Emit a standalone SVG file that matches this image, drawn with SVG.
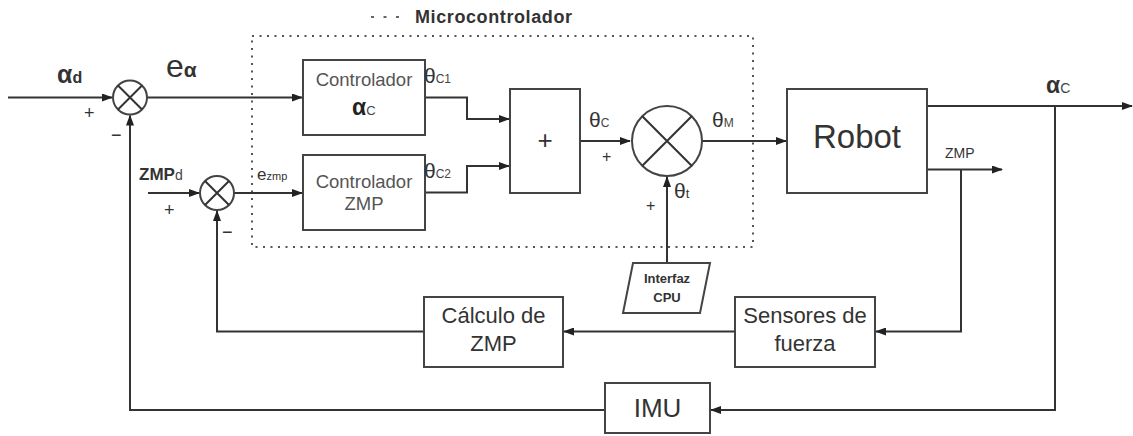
<svg xmlns="http://www.w3.org/2000/svg" width="1133" height="436" viewBox="0 0 1133 436">
<defs>
<marker id="ah" markerUnits="userSpaceOnUse" markerWidth="11" markerHeight="8" refX="10" refY="4" orient="auto">
<path d="M0,0 L11,4 L0,8 z" fill="#222"/>
</marker>
<style>
.ln{fill:none;stroke:#333;stroke-width:2}
.bx{fill:#fff;stroke:#444;stroke-width:2}
.t{font-family:"Liberation Sans",Arial,sans-serif;fill:#333}
.g{font-family:"Liberation Sans",Arial,sans-serif;fill:#555}
.b{font-weight:bold}
.m{text-anchor:middle}
</style>
</defs>
<rect width="1133" height="436" fill="#fff"/>

<g id="legend">
<line x1="371" y1="17" x2="402" y2="17" stroke="#666" stroke-width="2.2" stroke-dasharray="3,9.5"/>
<text class="t b" x="415" y="23" font-size="18" textLength="157" fill="#222">Microcontrolador</text>
</g>
<g id="microcontrolador">
<rect x="252" y="36" width="501" height="211" fill="none" stroke="#555" stroke-width="2" stroke-dasharray="2,5.5"/>
</g>

<g id="connectors">
<line class="ln" x1="8" y1="97.5" x2="112" y2="97.5" marker-end="url(#ah)"/>
<line class="ln" x1="147" y1="97.5" x2="302" y2="97.5" marker-end="url(#ah)"/>
<line class="ln" x1="148" y1="193" x2="199" y2="193" marker-end="url(#ah)"/>
<line class="ln" x1="234" y1="193" x2="302" y2="193" marker-end="url(#ah)"/>
<polyline class="ln" points="425,97.5 467,97.5 467,119 509,119" marker-end="url(#ah)"/>
<polyline class="ln" points="425,192.5 467,192.5 467,166 509,166" marker-end="url(#ah)"/>
<line class="ln" x1="580" y1="141" x2="630" y2="141" marker-end="url(#ah)"/>
<line class="ln" x1="702" y1="141" x2="786" y2="141" marker-end="url(#ah)"/>
<line class="ln" x1="667" y1="263" x2="667" y2="177" marker-end="url(#ah)"/>
<line class="ln" x1="927" y1="106" x2="1132" y2="106" marker-end="url(#ah)"/>
<line class="ln" x1="927" y1="169.5" x2="1002" y2="169.5" marker-end="url(#ah)"/>
<polyline class="ln" points="1055,106 1055,410 711,410" marker-end="url(#ah)"/>
<polyline class="ln" points="961,169.5 961,331.5 876,331.5" marker-end="url(#ah)"/>
<line class="ln" x1="735" y1="331.5" x2="564" y2="331.5" marker-end="url(#ah)"/>
<polyline class="ln" points="424,331.5 217,331.5 217,211" marker-end="url(#ah)"/>
<polyline class="ln" points="605,410 130,410 130,115.5" marker-end="url(#ah)"/>
</g>

<g id="sum1">
<circle class="bx" cx="130" cy="97.5" r="17"/>
<path class="ln" d="M118,85.5 L142,109.5 M142,85.5 L118,109.5"/>
</g>
<g id="sum2">
<circle class="bx" cx="217" cy="193" r="17"/>
<path class="ln" d="M205,181 L229,205 M229,181 L205,205"/>
</g>
<g id="sum3">
<circle class="bx" cx="667" cy="141" r="35"/>
<path class="ln" d="M642.3,116.3 L691.7,165.7 M691.7,116.3 L642.3,165.7"/>
</g>

<g id="controlador-alpha">
<rect class="bx" x="303" y="60" width="122" height="75"/>
<text class="g m" x="364" y="86" font-size="18.5">Controlador</text>
<text class="t" x="352" y="115"><tspan class="b" font-size="23" fill="#222">α</tspan><tspan font-size="13" fill="#444">C</tspan></text>
</g>
<g id="controlador-zmp">
<rect class="bx" x="303" y="155" width="122" height="75"/>
<text class="g m" x="364" y="188" font-size="18.5">Controlador</text>
<text class="g m" x="364" y="210" font-size="18.5">ZMP</text>
</g>
<g id="sumador">
<rect class="bx" x="510" y="89" width="70" height="104"/>
<text class="t m" x="545" y="149" font-size="26">+</text>
</g>
<g id="robot">
<rect class="bx" x="787" y="89" width="140" height="104"/>
<text class="t m" x="857" y="148" font-size="33" fill="#222">Robot</text>
</g>
<g id="interfaz">
<polygon class="bx" points="633,263 710,263 700,313 623,313"/>
<text class="t b m" x="667" y="283" font-size="13">Interfaz</text>
<text class="t b m" x="667" y="302" font-size="13">CPU</text>
</g>
<g id="calculo">
<rect class="bx" x="424" y="297" width="139" height="70"/>
<text class="t m" x="493.5" y="323" font-size="22">Cálculo de</text>
<text class="t m" x="493.5" y="351" font-size="22">ZMP</text>
</g>
<g id="sensores">
<rect class="bx" x="735" y="297" width="140" height="70"/>
<text class="t m" x="805" y="323" font-size="22">Sensores de</text>
<text class="t m" x="805" y="351" font-size="22">fuerza</text>
</g>
<g id="imu">
<rect class="bx" x="605" y="383" width="105" height="50"/>
<text class="t m" x="657.5" y="417" font-size="26">IMU</text>
</g>

<g id="labels">
<text class="t b" x="57" y="83" fill="#222"><tspan font-size="25">α</tspan><tspan font-size="16">d</tspan></text>
<text class="t" x="84" y="119" font-size="18">+</text>
<text class="t" x="111" y="141" font-size="18">−</text>
<text class="t" x="166" y="77" fill="#222"><tspan font-size="32">e</tspan><tspan class="b" font-size="21">α</tspan></text>
<text class="t b" x="139" y="180" fill="#222"><tspan font-size="17">ZMP</tspan><tspan font-size="14" font-weight="normal" fill="#444">d</tspan></text>
<text class="t" x="164" y="216" font-size="18">+</text>
<text class="t" x="222" y="238" font-size="18">−</text>
<text class="t" x="257" y="180" fill="#444"><tspan font-size="17">e</tspan><tspan font-size="11">zmp</tspan></text>
<text class="t" x="424" y="83" fill="#222"><tspan font-size="21">θ</tspan><tspan font-size="12" fill="#444">C1</tspan></text>
<text class="t" x="424" y="178" fill="#222"><tspan font-size="21">θ</tspan><tspan font-size="12" fill="#444">C2</tspan></text>
<text class="t" x="589" y="127" fill="#222"><tspan font-size="21">θ</tspan><tspan font-size="12" fill="#444">C</tspan></text>
<text class="t" x="602" y="162" font-size="16">+</text>
<text class="t" x="712" y="127" fill="#222"><tspan font-size="21">θ</tspan><tspan font-size="12" fill="#444">M</tspan></text>
<text class="t" x="674" y="198" fill="#222"><tspan font-size="21">θ</tspan><tspan font-size="13">t</tspan></text>
<text class="t" x="646" y="211" font-size="16">+</text>
<text class="t b" x="1046" y="93" fill="#222"><tspan font-size="23">α</tspan><tspan font-size="14" font-weight="normal" fill="#444">C</tspan></text>
<text class="t" x="945" y="158" font-size="14" fill="#444">ZMP</text>
</g>
</svg>
